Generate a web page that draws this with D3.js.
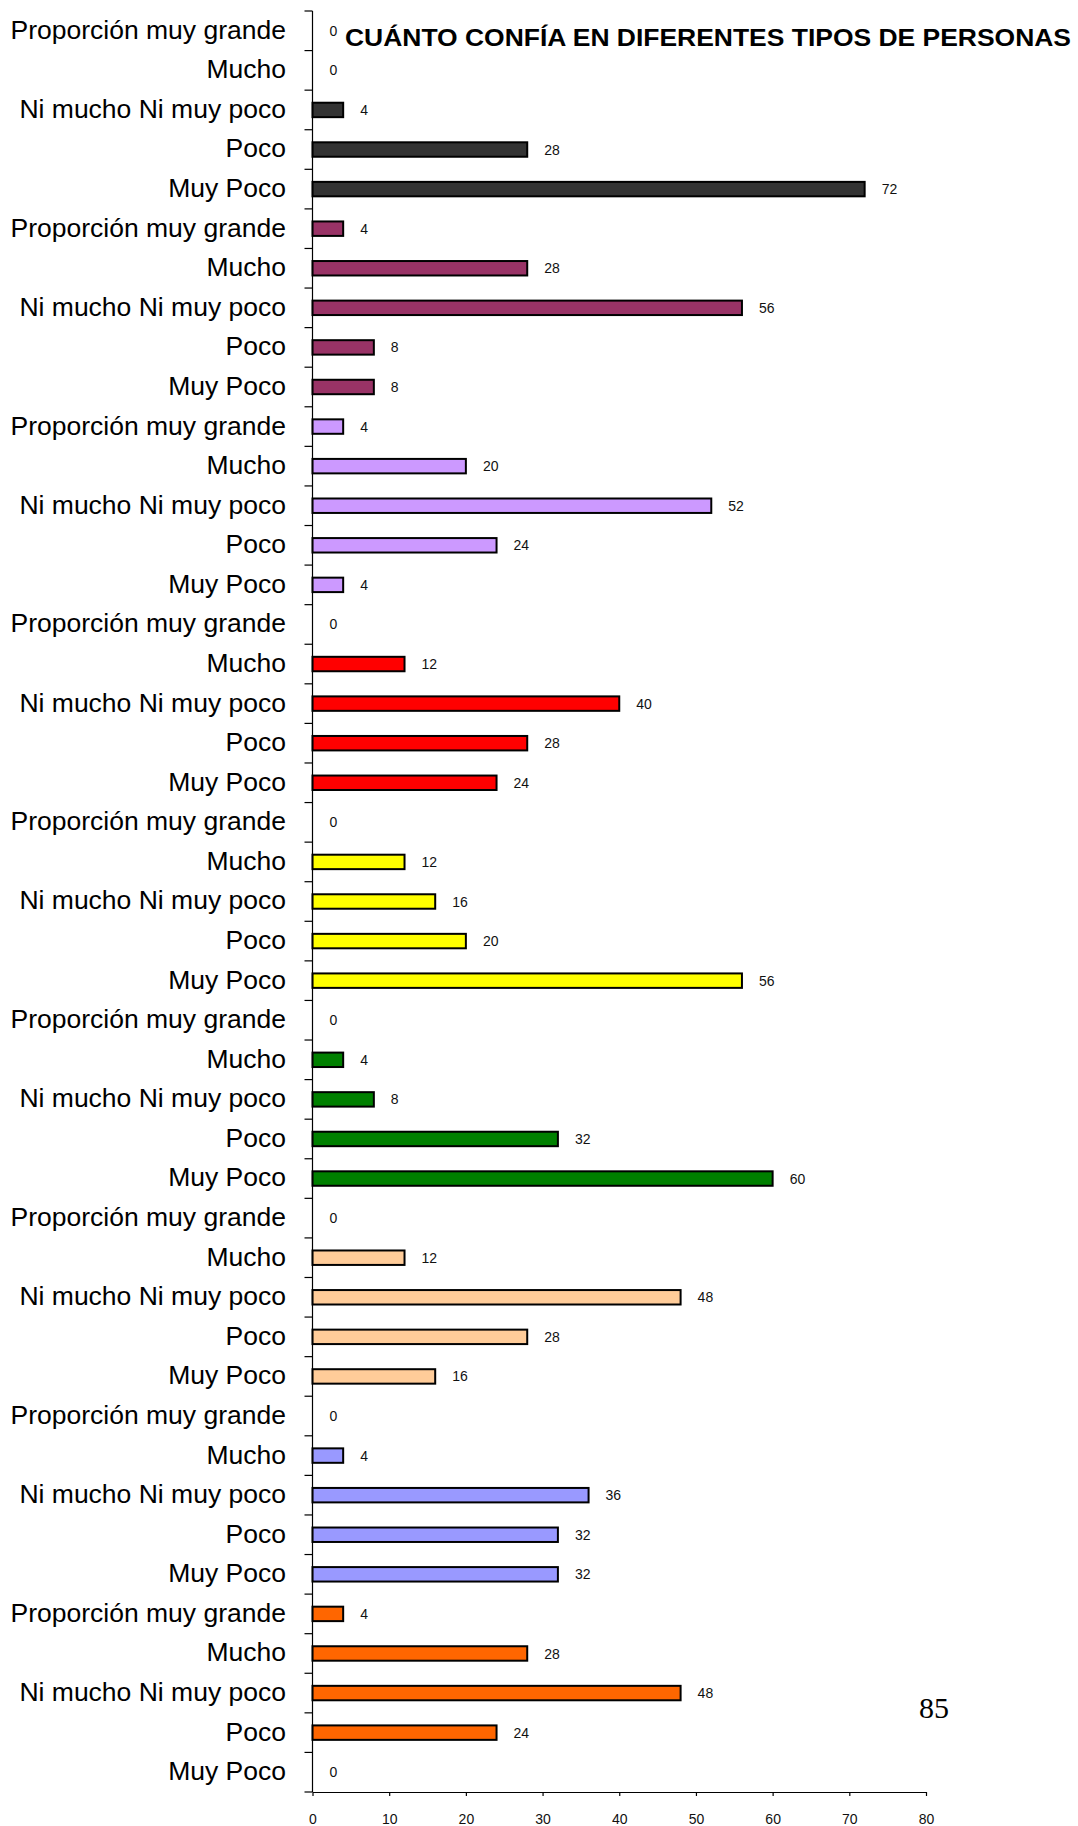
<!DOCTYPE html>
<html>
<head>
<meta charset="utf-8">
<script src="https://cdn.jsdelivr.net/npm/d3@7"></script>
<style>
  html, body { margin: 0; padding: 0; background: #fff; }
  svg { display: block; }
</style>
</head>
<body>
<div id="chart"></div>
<script>
// niveles de confianza (de arriba hacia abajo dentro de cada grupo)
const ratings = ["Proporción muy grande", "Mucho", "Ni mucho Ni muy poco", "Poco", "Muy Poco"];

// valores por grupo (mismo orden que ratings)
const grupo1 = [0, 0, 4, 28, 72];
const grupo2 = [4, 28, 56, 8, 8];
const grupo3 = [4, 20, 52, 24, 4];
const grupo4 = [0, 12, 40, 28, 24];
const grupo5 = [0, 12, 16, 20, 56];
const grupo6 = [0, 4, 8, 32, 60];
const grupo7 = [0, 12, 48, 28, 16];
const grupo8 = [0, 4, 36, 32, 32];
const grupo9 = [4, 28, 48, 24, 0];

const groupColors = ["#333333", "#993366", "#CC99FF", "#FF0000", "#FFFF00",
                     "#008000", "#FFCC99", "#9999FF", "#FF6600"];
const xTicks = [0, 10, 20, 30, 40, 50, 60, 70, 80];

const title = "CUÁNTO CONFÍA EN DIFERENTES TIPOS DE PERSONAS";
const pageNumber = "85";

const groups = [grupo1, grupo2, grupo3, grupo4, grupo5, grupo6, grupo7, grupo8, grupo9];

// filas planas
const rows = [];
groups.forEach((vals, gi) => {
    vals.forEach((v, ri) => {
        rows.push({ label: ratings[ri], value: v, color: groupColors[gi] });
    });
});

const width = 1078, height = 1826;
const plotLeft = 312.5, plotRight = 926, plotTop = 11, plotBottom = 1792;

const svg = d3.select("#chart").append("svg")
    .attr("width", width)
    .attr("height", height);

const x = d3.scaleLinear().domain([0, 80]).range([plotLeft, plotRight]);

const y = d3.scaleBand()
    .domain(d3.range(rows.length))
    .range([plotTop, plotBottom])
    .paddingInner(0.635)
    .paddingOuter(0.3175);

const step = y.step();

// barras
svg.append("g").selectAll("rect")
    .data(rows)
    .enter()
    .append("rect")
    .attr("x", x(0))
    .attr("y", (d, i) => y(i))
    .attr("width", d => x(d.value) - x(0))
    .attr("height", y.bandwidth())
    .attr("fill", d => d.color)
    .attr("stroke", d => d.value > 0 ? "#000" : "none")
    .attr("stroke-width", 2);

// valores
svg.append("g").selectAll("text")
    .data(rows)
    .enter()
    .append("text")
    .attr("x", d => x(d.value) + 17)
    .attr("y", (d, i) => y(i) + y.bandwidth() / 2)
    .attr("dy", "0.36em")
    .attr("font-family", "Liberation Sans, Arial, sans-serif")
    .attr("font-size", "14px")
    .attr("fill", "#111")
    .text(d => d.value);

// etiquetas de categorías
svg.append("g").selectAll("text")
    .data(rows)
    .enter()
    .append("text")
    .attr("x", 286)
    .attr("y", (d, i) => y(i) + y.bandwidth() / 2)
    .attr("dy", "0.3em")
    .attr("text-anchor", "end")
    .attr("font-family", "Liberation Sans, Arial, sans-serif")
    .attr("font-size", "26.5px")
    .attr("fill", "#000")
    .text(d => d.label);

// eje vertical con marcas entre categorías
const yAxis = svg.append("g").attr("stroke", "#000").attr("stroke-width", 1.2);
yAxis.append("line")
    .attr("x1", plotLeft).attr("x2", plotLeft)
    .attr("y1", plotTop).attr("y2", plotBottom);
yAxis.selectAll("line.tick")
    .data(d3.range(rows.length + 1))
    .enter()
    .append("line")
    .attr("class", "tick")
    .attr("x1", plotLeft - 8).attr("x2", plotLeft)
    .attr("y1", i => plotTop + i * step)
    .attr("y2", i => plotTop + i * step);

// eje horizontal
const xAxis = svg.append("g")
    .attr("transform", `translate(0, ${plotBottom})`)
    .call(d3.axisBottom(x).tickValues(xTicks).tickSize(4).tickPadding(18).tickSizeOuter(0));
xAxis.select(".domain").attr("stroke", "#000").attr("stroke-width", 1.2);
xAxis.selectAll(".tick line").attr("stroke", "#000").attr("stroke-width", 1.2);
xAxis.selectAll(".tick text")
    .attr("font-family", "Liberation Sans, Arial, sans-serif")
    .attr("font-size", "14px")
    .attr("fill", "#111");

// título
svg.append("text")
    .attr("x", 345)
    .attr("y", 46)
    .attr("font-family", "Liberation Sans, Arial, sans-serif")
    .attr("font-size", "23px")
    .attr("font-weight", "bold")
    .attr("textLength", 726)
    .attr("lengthAdjust", "spacingAndGlyphs")
    .attr("fill", "#000")
    .text(title);

// número de página
svg.append("text")
    .attr("x", 934)
    .attr("y", 1718)
    .attr("text-anchor", "middle")
    .attr("font-family", "Liberation Serif, Times New Roman, serif")
    .attr("font-size", "30px")
    .attr("fill", "#000")
    .text(pageNumber);
</script>
</body>
</html>
